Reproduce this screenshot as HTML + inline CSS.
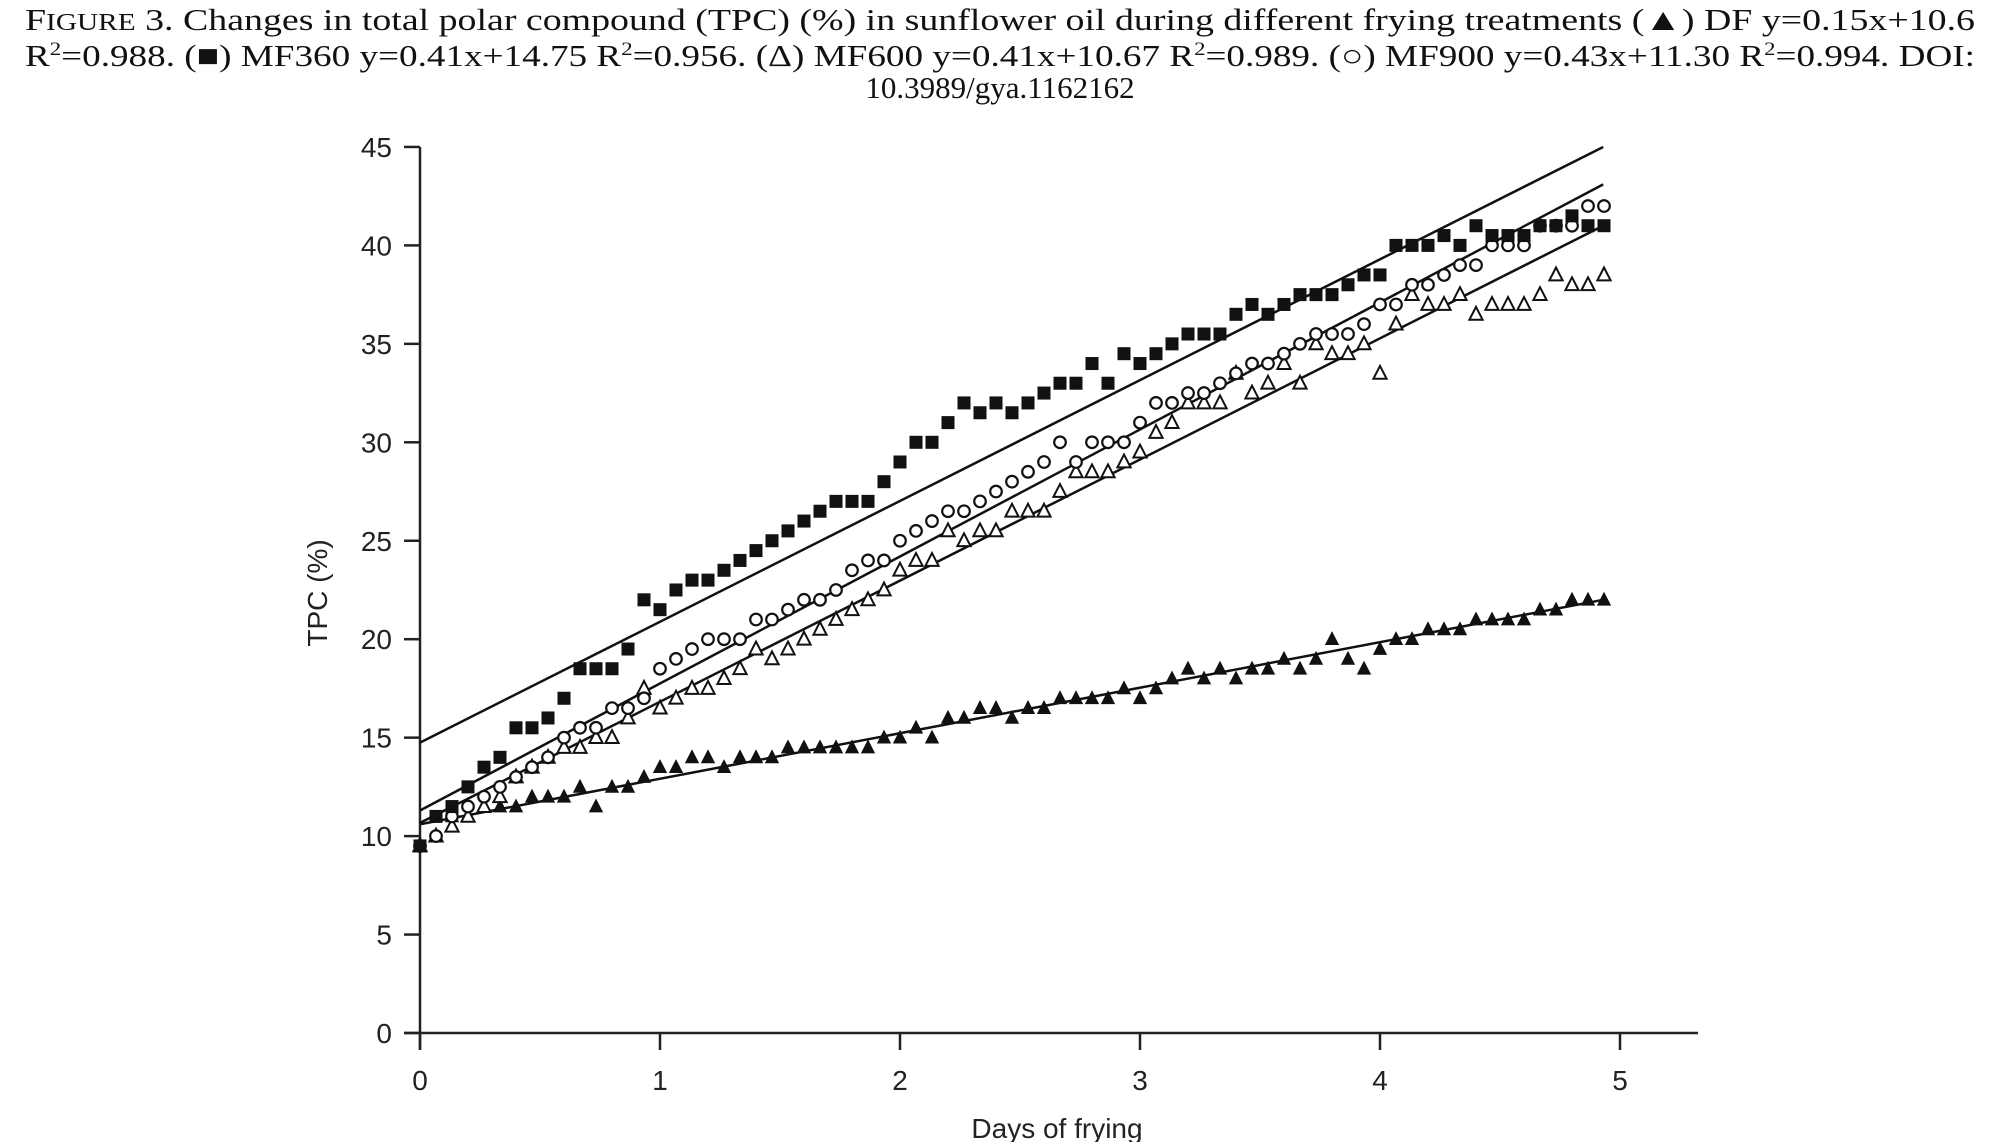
<!DOCTYPE html>
<html><head><meta charset="utf-8"><style>
html,body{margin:0;padding:0;background:#fff;}
svg{display:block;}
</style></head><body>
<svg id="chart" width="1998" height="1142" viewBox="0 0 1998 1142" xmlns="http://www.w3.org/2000/svg">
<g font-family="Liberation Serif, serif" font-size="31" fill="#111">
<text x="25" y="30" textLength="1950" lengthAdjust="spacingAndGlyphs"><tspan font-size="31">F</tspan><tspan font-size="24">IGURE</tspan> 3.    Changes in total polar compound (TPC) (%) in sunflower oil during different frying treatments (▲) DF y=0.15x+10.6</text>
<text x="25" y="66" textLength="1950" lengthAdjust="spacingAndGlyphs">R<tspan font-size="19" dy="-11">2</tspan><tspan dy="11">=0.988. (■) MF360 y=0.41x+14.75 R</tspan><tspan font-size="19" dy="-11">2</tspan><tspan dy="11">=0.956. (Δ) MF600 y=0.41x+10.67 R</tspan><tspan font-size="19" dy="-11">2</tspan><tspan dy="11">=0.989. (○) MF900 y=0.43x+11.30 R</tspan><tspan font-size="19" dy="-11">2</tspan><tspan dy="11">=0.994. DOI:</tspan></text>
<text x="1000" y="98" text-anchor="middle">10.3989/gya.1162162</text>
</g>
<g id="axes"></g>
<g id="fits"></g>
<g id="marks"></g>
</svg>
<script>
const xTicks = [0,1,2,3,4,5];
const yTicks = [0,5,10,15,20,25,30,35,40,45];
const days = [];
for (let i = 0; i < 75; i++) days.push(i / 15);
const mf360 = [9.5,11,11.5,12.5,13.5,14,15.5,15.5,16,17,18.5,18.5,18.5,19.5,22,21.5,22.5,23,23,23.5,24,24.5,25,25.5,26,26.5,27,27,27,28,29,30,30,31,32,31.5,32,31.5,32,32.5,33,33,34,33,34.5,34,34.5,35,35.5,35.5,35.5,36.5,37,36.5,37,37.5,37.5,37.5,38,38.5,38.5,40,40,40,40.5,40,41,40.5,40.5,40.5,41,41,41.5,41,41];
const mf900 = [9.5,10,11,11.5,12,12.5,13,13.5,14,15,15.5,15.5,16.5,16.5,17,18.5,19,19.5,20,20,20,21,21,21.5,22,22,22.5,23.5,24,24,25,25.5,26,26.5,26.5,27,27.5,28,28.5,29,30,29,30,30,30,31,32,32,32.5,32.5,33,33.5,34,34,34.5,35,35.5,35.5,35.5,36,37,37,38,38,38.5,39,39,40,40,40,41,41,41,42,42];
const mf600 = [9.5,10,10.5,11,11.5,12,13,13.5,14,14.5,14.5,15,15,16,17.5,16.5,17,17.5,17.5,18,18.5,19.5,19,19.5,20,20.5,21,21.5,22,22.5,23.5,24,24,25.5,25,25.5,25.5,26.5,26.5,26.5,27.5,28.5,28.5,28.5,29,29.5,30.5,31,32,32,32,33.5,32.5,33,34,33,35,34.5,34.5,35,33.5,36,37.5,37,37,37.5,36.5,37,37,37,37.5,38.5,38,38,38.5];
const df = [9.5,10,11,11,11.5,11.5,11.5,12,12,12,12.5,11.5,12.5,12.5,13,13.5,13.5,14,14,13.5,14,14,14,14.5,14.5,14.5,14.5,14.5,14.5,15,15,15.5,15,16,16,16.5,16.5,16,16.5,16.5,17,17,17,17,17.5,17,17.5,18,18.5,18,18.5,18,18.5,18.5,19,18.5,19,20,19,18.5,19.5,20,20,20.5,20.5,20.5,21,21,21,21,21.5,21.5,22,22,22];
const fitNames = ['fit-mf360','fit-mf900','fit-mf600','fit-df'];
const fitStart = [14.75,11.3,10.67,10.6];
const fitEnd = [45,43.1,41,22];
const fitRange = [0,4.93];

const NS='http://www.w3.org/2000/svg';
const X0=420, PXD=240, Y0=1033, PXV=19.69;
const sx = d => X0 + d*PXD;
const sy = v => Y0 - v*PXV;
function mk(tag, parent, attrs){const e=document.createElementNS(NS,tag);for(const k in attrs)e.setAttribute(k,attrs[k]);parent.appendChild(e);return e;}
const axes=document.getElementById('axes');
let e;
e=mk('line',axes,{x1:X0,y1:sy(45),x2:X0,y2:Y0+17,stroke:'#222','stroke-width':2.5});


e=mk('line',axes,{x1:404,y1:Y0,x2:1698,y2:Y0,stroke:'#222','stroke-width':2.5});


yTicks.forEach(t=>{
  e=mk('line',axes,{x1:404,y1:sy(t),x2:X0,y2:sy(t),stroke:'#222','stroke-width':2.5});
  
  
  e=mk('text',axes,{x:392,y:sy(t)+10,'text-anchor':'end','font-family':'Liberation Sans, sans-serif','font-size':28,fill:'#222'});
  e.textContent=t;
  
  
});
xTicks.forEach(t=>{
  e=mk('line',axes,{x1:sx(t),y1:Y0,x2:sx(t),y2:Y0+17,stroke:'#222','stroke-width':2.5});
  
  
  e=mk('text',axes,{x:sx(t),y:1090,'text-anchor':'middle','font-family':'Liberation Sans, sans-serif','font-size':28,fill:'#222'});
  e.textContent=t;
  
  
});
e=mk('text',axes,{x:1057,y:1138,'text-anchor':'middle','font-family':'Liberation Sans, sans-serif','font-size':28,fill:'#222'});
e.textContent='Days of frying';


e=mk('text',axes,{x:0,y:0,transform:'translate(327,593) rotate(-90)','text-anchor':'middle','font-family':'Liberation Sans, sans-serif','font-size':28,fill:'#222'});
e.textContent='TPC (%)';



const fits=document.getElementById('fits');
fitNames.forEach((n,i)=>{
  e=mk('line',fits,{x1:sx(fitRange[0]),y1:sy(fitStart[i]),x2:sx(fitRange[1]),y2:sy(fitEnd[i]),stroke:'#111','stroke-width':2.5});
  
  
});

const marks=document.getElementById('marks');
const g1=mk('g',marks,{});
const g2=mk('g',marks,{});
const g3=mk('g',marks,{});
const g4=mk('g',marks,{});
function tri(cx,cy,s){return `${cx},${cy-s*0.62} ${cx-s*0.55},${cy+s*0.45} ${cx+s*0.55},${cy+s*0.45}`;}
days.forEach((d,i)=>{
  const x=sx(d);
  e=mk('polygon',g1,{points:tri(x,sy(df[i]),13),fill:'#111'});
  
  
  e=mk('polygon',g2,{points:tri(x,sy(mf600[i]),12),fill:'#fff',stroke:'#111','stroke-width':2});
  
  
  e=mk('circle',g3,{cx:x,cy:sy(mf900[i]),r:5.8,fill:'#fff',stroke:'#111','stroke-width':2.2});
  
  
  e=mk('rect',g4,{x:x-6.5,y:sy(mf360[i])-6.5,width:13,height:13,fill:'#111'});
  
  
});
</script>
</body></html>
